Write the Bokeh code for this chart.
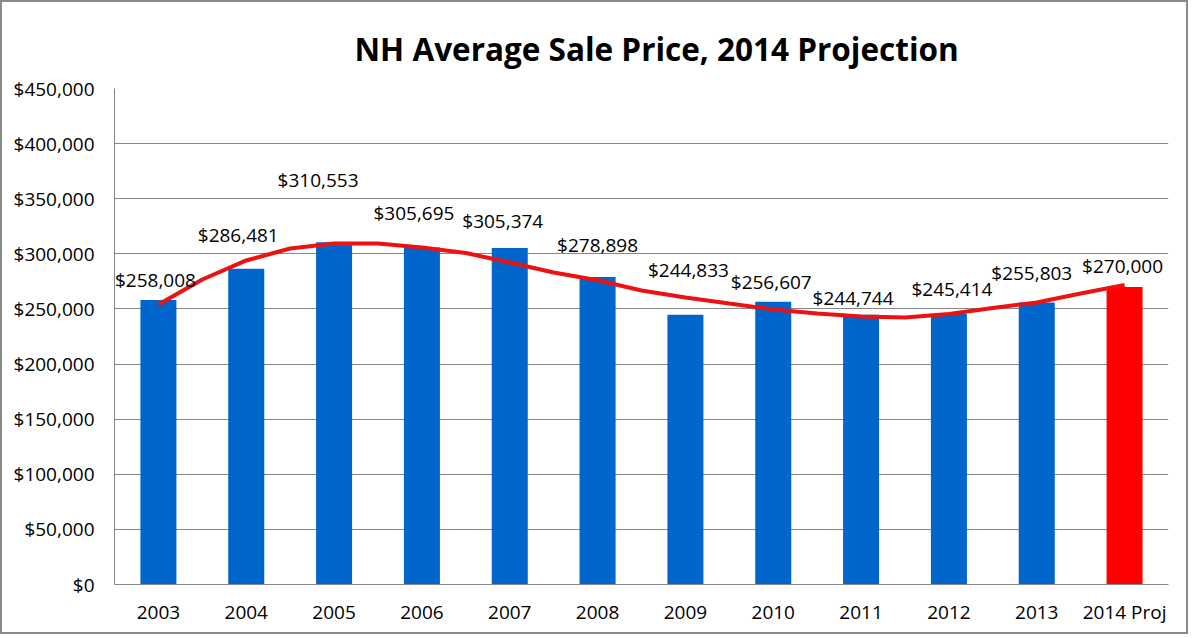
from bokeh.plotting import figure
from bokeh.models import ColumnDataSource, FactorRange, Range1d, FixedTicker, NumeralTickFormatter
from bokeh.core.properties import value
from bokeh.embed import file_html
from bokeh.resources import INLINE

# ---- data ----
years = ["2003", "2004", "2005", "2006", "2007", "2008", "2009", "2010",
         "2011", "2012", "2013", "2014 Proj"]
prices = [258008, 286481, 310553, 305695, 305374, 278898, 244833, 256607,
          244744, 245414, 255803, 270000]
price_labels = ["$258,008", "$286,481", "$310,553", "$305,695", "$305,374", "$278,898",
                "$244,833", "$256,607", "$244,744", "$245,414", "$255,803", "$270,000"]
# trend line (category index positions, value)
trend_pos = [0, 0.5, 1, 1.5, 2, 2.5, 3, 3.5, 4, 4.5, 5, 5.5, 6, 6.5, 7, 7.5,
             8, 8.5, 9, 9.5, 10, 10.5, 11]
trend_vals = [254000, 276700, 294000, 304800, 309400, 309400, 305700, 300800,
              292100, 283100, 276000, 266700, 260400, 254900, 249500, 245900,
              243100, 242200, 245400, 250900, 255900, 264000, 271700]
y_ticks = [0, 50000, 100000, 150000, 200000, 250000, 300000, 350000, 400000, 450000]

# ---- layout / style ----
bar_colors = ["#0066CC"] * 11 + ["#FF0000"]
label_dx = [-3, -8, -16, -8, -7, 0, 3, -2, -8, 3, -5, -2]
label_up = [20, 34, 62, 35, 27, 32, 45, 20, 17, 25, 30, 21]
FONT = "Open Sans"
GRID = "#868686"

src = ColumnDataSource(dict(
    x=years, top=prices, color=bar_colors, label=price_labels,
    dx=label_dx, dy=[-u for u in label_up],
))

p = figure(width=1188, height=634, output_backend="svg", toolbar_location=None,
           x_range=FactorRange(factors=years, range_padding=0, factor_padding=0),
           y_range=Range1d(0, 450000),
           min_border_left=112, min_border_right=22, min_border_top=86, min_border_bottom=52)
p.styles = {"border": "2px solid #8a8a8a"}

p.title.text = "NH Average Sale Price, 2014 Projection"
p.title.text_font = FONT
p.title.text_font_style = "bold"
p.title.text_font_size = "31.5px"
p.title.text_color = "#000000"
p.title.align = "left"
p.title.offset = 240
p.title.standoff = 38

p.outline_line_color = None
p.background_fill_color = "white"
p.border_fill_color = "white"

p.vbar(x="x", top="top", width=0.41, color="color", line_color=None, source=src)
p.line(x=[t + 0.5 for t in trend_pos], y=trend_vals, line_width=4, line_color="#EE1111")
p.text(x="x", y="top", text="label", x_offset="dx", y_offset="dy", source=src,
       text_font=value(FONT), text_font_size="19px", text_color="#000000",
       text_align="center", text_baseline="middle")

p.xgrid.grid_line_color = None
p.ygrid.grid_line_color = GRID
p.ygrid.grid_line_width = 1

p.yaxis.ticker = FixedTicker(ticks=y_ticks)
p.yaxis.formatter = NumeralTickFormatter(format="$0,0")
for ax in (p.xaxis[0], p.yaxis[0]):
    ax.axis_line_color = GRID
    ax.major_tick_line_color = None
    ax.minor_tick_line_color = None
    ax.major_tick_in = 0
    ax.major_tick_out = 0
    ax.major_label_text_font = FONT
    ax.major_label_text_font_size = "19px"
    ax.major_label_text_color = "#000000"
p.yaxis.major_label_standoff = 20
p.xaxis.major_label_standoff = 14

open("out.html", "w").write(file_html(p, INLINE))
